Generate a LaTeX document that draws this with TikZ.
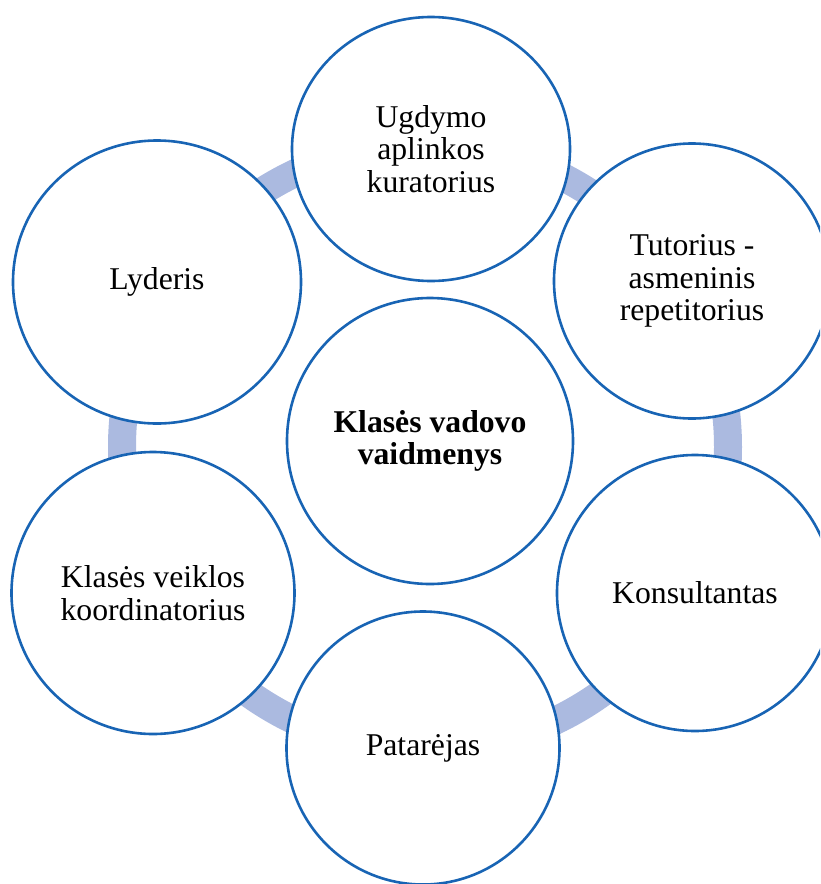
\documentclass[tikz,border=0pt]{standalone}
\usepackage{fontspec}
\setmainfont{Liberation Serif}
\usetikzlibrary{shapes.geometric}
\definecolor{ringblue}{RGB}{171,186,224}
\definecolor{edgeblue}{RGB}{24,100,180}
\begin{document}
\begin{tikzpicture}[x=1pt,y=-1pt,
  role/.style={ellipse, draw=edgeblue, line width=2.6pt, fill=white,
    inner sep=0pt, align=center,
    font=\fontsize{31.7}{32.5}\selectfont},
  cycle ring/.style={draw=ringblue, line width=28pt}
]
\useasboundingbox (0,0) rectangle (820,884);
\clip (0,0) rectangle (820,884);

% the ring that links the six roles
\coordinate (hub) at (425,447);
\draw[cycle ring] (hub) circle[radius=303pt];

% central role
\node[role, minimum width=286pt, minimum height=286pt] (centre) at (430,441)
  {\textbf{Klasės vadovo}\\\textbf{vaidmenys}};

% surrounding roles
\node[role, minimum width=278pt, minimum height=264pt] (curator) at (431,149)
  {Ugdymo\\aplinkos\\kuratorius};
\node[role, minimum width=276pt, minimum height=275pt] (tutor) at (692,281)
  {Tutorius -\\asmeninis\\repetitorius};
\node[role, minimum width=276pt, minimum height=276pt] (consult) at (695,593)
  {Konsultantas};
\node[role, minimum width=273pt, minimum height=273pt] (advisor) at (423,748)
  {Patarėjas};
\node[role, minimum width=283pt, minimum height=282pt] (coord) at (153,593)
  {Klasės veiklos\\koordinatorius};
\node[role, minimum width=288pt, minimum height=283pt] (leader) at (157,282)
  {Lyderis};
\end{tikzpicture}
\end{document}
